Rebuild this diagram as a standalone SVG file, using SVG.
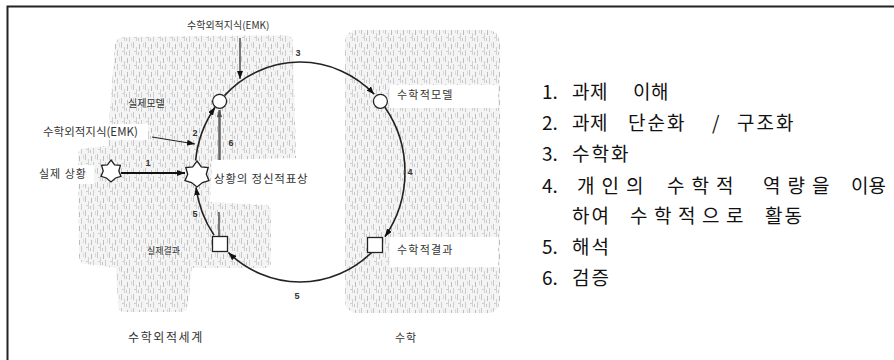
<svg xmlns="http://www.w3.org/2000/svg" width="894" height="360" viewBox="0 0 894 360">
<defs>
<pattern id="tex" width="12" height="14" patternUnits="userSpaceOnUse">
<rect width="12" height="14" fill="#f4f4f4"/>
<rect x="1" y="0" width="1" height="6" fill="#c6c6c6"/>
<rect x="4" y="5" width="1" height="8" fill="#d2d2d2"/>
<rect x="7" y="2" width="1" height="5" fill="#bdbdbd"/>
<rect x="9" y="8" width="1" height="6" fill="#cdcdcd"/>
<rect x="11" y="1" width="1" height="4" fill="#dadada"/>
<rect x="2" y="9" width="2" height="1" fill="#d0d0d0"/>
<rect x="6" y="10" width="1" height="3" fill="#c8c8c8"/>
</pattern>
<marker id="ah" viewBox="0 0 8 6" refX="8" refY="3" markerWidth="8" markerHeight="6" markerUnits="userSpaceOnUse" orient="auto">
<path d="M0,0 L8,3 L0,6 Z" fill="#111"/>
</marker>
<marker id="ahg" viewBox="0 0 8 6" refX="8" refY="3" markerWidth="7" markerHeight="6" markerUnits="userSpaceOnUse" orient="auto">
<path d="M0,0 L8,3 L0,6 Z" fill="#555"/>
</marker>
</defs>
<style>
.lbl{font-family:"Noto Sans CJK KR","Noto Sans",sans-serif;fill:#333}
.num{font-family:"Liberation Sans",Arial,sans-serif;font-size:9px;font-weight:bold;fill:#333;text-anchor:middle}
.lst{font-family:"Noto Sans CJK KR","Noto Sans",sans-serif;font-size:19px;fill:#111;letter-spacing:2px}
.arc{fill:none;stroke:#222;stroke-width:1.6}
.ln{fill:none;stroke:#222;stroke-width:1.2}
.node{fill:#fff;stroke:#222;stroke-width:1.3}
</style>
<rect width="894" height="360" fill="#fff"/>
<path d="M7.5,360 V6.5 H894" fill="none" stroke="#222" stroke-width="2"/>

<g id="backgrounds">
<path d="M115,45 Q116,37 125,37 L285,35 Q293,35 293,43 L296,158 L212,160 L210,202 L266,205 Q271,206 271,212 L271,262 Q271,268 264,268 L192,268 L188,306 Q187,312 180,312 L124,312 Q118,312 118,305 L116,268 L86,264 Q79,263 79,256 L78,155 Q78,148 86,148 L108,146 L110,108 Z" fill="url(#tex)"/>
<rect x="345" y="30" width="155" height="283" rx="12" fill="url(#tex)"/>
<rect x="390" y="85" width="108" height="23" fill="#fff"/>
<rect x="390" y="237" width="108" height="30" fill="#fff"/>
<rect x="38" y="124" width="110" height="16" fill="#fff"/>
<rect x="36" y="165" width="58" height="19" fill="#fff"/>
</g>

<g id="connectors">
<path class="arc" d="M195.6,160.5 A105,110 0 0 1 215.1,107.3" marker-end="url(#ah)"/>
<path class="arc" d="M224.5,95.6 A105,110 0 0 1 374.2,94.2" marker-end="url(#ah)"/>
<path class="arc" d="M384.9,107.3 A105,110 0 0 1 384.9,236.7" marker-end="url(#ah)"/>
<path class="arc" d="M371.6,252.5 A105,110 0 0 1 228.4,252.5" marker-end="url(#ah)"/>
<path class="arc" d="M214,235.1 A105,110 0 0 1 196,187.3" marker-end="url(#ah)"/>
<line x1="121" y1="173" x2="185" y2="173" stroke="#111" stroke-width="2.2" marker-end="url(#ah)"/>
<line x1="219.5" y1="160" x2="219.5" y2="110" stroke="#666" stroke-width="2.5" marker-end="url(#ahg)"/>
<line class="ln" x1="219" y1="212" x2="219" y2="236.5"/>
<line class="ln" x1="240" y1="38" x2="240" y2="79" marker-end="url(#ah)"/>
<line class="ln" x1="152" y1="137" x2="195" y2="144" marker-end="url(#ah)"/>
<text class="num" x="298" y="56">3</text>
<text class="num" x="195" y="136">2</text>
<text class="num" x="231" y="146">6</text>
<text class="num" x="148" y="166">1</text>
<text class="num" x="410" y="175">4</text>
<text class="num" x="195" y="217">5</text>
<text class="num" x="297" y="299">5</text>
</g>

<g id="real-situation">
<polygon class="node" points="111,160 114.6,164.9 120.4,165.4 118.8,171 121,176.4 115.6,178 111,182 106.4,178 101,176.4 103.2,171 101.6,165.4 107.4,164.9"/>
<text class="lbl" x="39" y="178" font-size="11" letter-spacing="1">실제 상황</text>
</g>
<g id="mental-representation">
<polygon class="node" points="197,161 201.3,166.9 208.2,167.5 206.3,174.3 209,180.7 202.5,182.6 197,187 191.5,182.6 185,180.7 187.7,174.3 185.8,167.5 192.7,166.9"/>
<text class="lbl" x="214" y="183" font-size="11.5" letter-spacing="0.8">상황의 정신적표상</text>
</g>
<g id="real-model">
<circle class="node" cx="219.6" cy="101.3" r="7"/>
<text class="lbl" x="128" y="107" font-size="10">실제모델</text>
</g>
<g id="math-model">
<circle class="node" cx="380.4" cy="101.3" r="7"/>
<text class="lbl" x="397" y="99" font-size="11" letter-spacing="1.2">수학적모델</text>
</g>
<g id="math-result">
<rect class="node" x="367.5" y="237.5" width="15" height="15"/>
<text class="lbl" x="397" y="254" font-size="11" letter-spacing="1.2">수학적결과</text>
</g>
<g id="real-result">
<rect class="node" x="212.5" y="236.5" width="15" height="15"/>
<text class="lbl" x="147" y="253.5" font-size="9">실제결과</text>
</g>
<g id="emk-top">
<text class="lbl" x="187" y="29" font-size="10">수학외적지식(EMK)</text>
</g>
<g id="emk-left">
<text class="lbl" x="43" y="136" font-size="11.5">수학외적지식(EMK)</text>
</g>
<g id="world-labels">
<text class="lbl" x="128" y="341.5" font-size="12" letter-spacing="1.6">수학외적세계</text>
<text class="lbl" x="395" y="342" font-size="11" letter-spacing="1">수학</text>
</g>

<g id="legend">
<text class="lst" y="99"><tspan x="542" letter-spacing="0">1.</tspan><tspan x="572" letter-spacing="0.5">과제</tspan><tspan x="633" letter-spacing="0.5">이해</tspan></text>
<text class="lst" y="130"><tspan x="542" letter-spacing="0">2.</tspan><tspan x="572" letter-spacing="0.5">과제</tspan><tspan x="628">단순화</tspan><tspan x="712">/</tspan><tspan x="737">구조화</tspan></text>
<text class="lst" y="161"><tspan x="542" letter-spacing="0">3.</tspan><tspan x="572">수학화</tspan></text>
<text class="lst" y="193"><tspan x="542" letter-spacing="0">4.</tspan><tspan x="577" letter-spacing="7">개인의</tspan><tspan x="667" letter-spacing="7">수학적</tspan><tspan x="763" letter-spacing="7">역량을</tspan><tspan x="851" letter-spacing="0">이용</tspan></text>
<text class="lst" y="223"><tspan x="572">하여</tspan><tspan x="630" letter-spacing="6.5">수학적으로</tspan><tspan x="765">활동</tspan></text>
<text class="lst" y="254"><tspan x="542" letter-spacing="0">5.</tspan><tspan x="572">해석</tspan></text>
<text class="lst" y="285"><tspan x="542" letter-spacing="0">6.</tspan><tspan x="572">검증</tspan></text>
</g>
</svg>
